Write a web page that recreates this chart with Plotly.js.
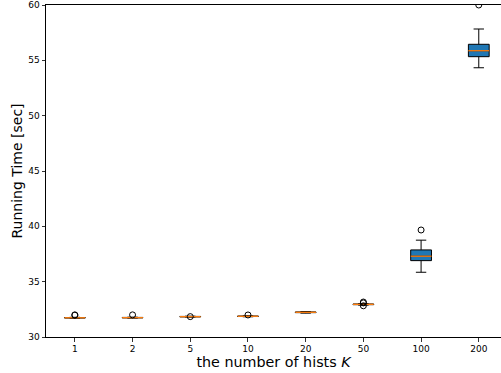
<!DOCTYPE html>
<html>
<head>
<meta charset="utf-8">
<script src="https://cdn.plot.ly/plotly-3.0.1.min.js"></script>
<style>html,body{margin:0;padding:0;background:#fff}#chart{width:501px;height:373px}</style>
</head>
<body>
<div id="chart"></div>
<script>
const categories = ["1", "2", "5", "10", "20", "50", "100", "200"];
const q1 = [31.72, 31.73, 31.82, 31.85, 32.20, 32.92, 36.90, 55.33];
const median = [31.74, 31.75, 31.84, 31.87, 32.23, 32.95, 37.30, 55.87];
const q3 = [31.76, 31.77, 31.86, 31.89, 32.26, 32.98, 37.87, 56.45];
const lowerWhisker = [31.70, 31.71, 31.80, 31.83, 32.16, 32.88, 35.85, 54.33];
const upperWhisker = [31.78, 31.79, 31.88, 31.91, 32.30, 33.02, 38.75, 57.83];
const outlierCat = ["1", "1", "2", "5", "10", "50", "50", "50", "100", "200"];
const outlierVal = [31.97, 32.0, 32.0, 31.84, 31.99, 33.16, 33.08, 32.82, 39.67, 60.0];

const boxWidth = 0.36;
const pos = categories.map((c, i) => i + 1);
const posOf = c => categories.indexOf(c) + 1;

const boxTrace = {
  type: 'box',
  x: pos,
  q1: q1, median: median, q3: q3,
  lowerfence: lowerWhisker, upperfence: upperWhisker,
  width: boxWidth,
  whiskerwidth: 0.5,
  fillcolor: '#1f77b4',
  line: {color: '#000000', width: 1},
  boxpoints: false,
  hoverinfo: 'skip',
  showlegend: false
};

const mx = [], my = [];
pos.forEach((p, i) => { mx.push(p - boxWidth / 2, p + boxWidth / 2, null); my.push(median[i], median[i], null); });
const medianTrace = {
  type: 'scatter', mode: 'lines', x: mx, y: my,
  line: {color: '#ff7f0e', width: 1.3}, showlegend: false, hoverinfo: 'skip'
};

const outlierTrace = {
  type: 'scatter', mode: 'markers',
  x: outlierCat.map(posOf), y: outlierVal,
  marker: {symbol: 'circle-open', size: 6, color: '#000000', line: {width: 1, color: '#000000'}},
  showlegend: false, hoverinfo: 'skip'
};

const layout = {
  width: 501, height: 373,
  margin: {l: 46, r: 0, t: 5, b: 36, pad: 0},
  paper_bgcolor: '#ffffff', plot_bgcolor: '#ffffff',
  font: {family: 'DejaVu Sans', color: '#000000', size: 9},
  showlegend: false,
  xaxis: {
    range: [0.5, 8.385],
    tickmode: 'array', tickvals: pos, ticktext: categories,
    showgrid: false, zeroline: false,
    showline: true, linecolor: '#000000', linewidth: 1, mirror: true,
    ticks: 'outside', ticklen: 3.5, tickwidth: 0.8, tickcolor: '#000000',
    tickfont: {size: 9, family: 'DejaVu Sans'},
    title: {text: 'the number of hists <i>K</i>', font: {size: 14.3, family: 'DejaVu Sans'}, standoff: 3}
  },
  yaxis: {
    range: [30, 60],
    tickvals: [30, 35, 40, 45, 50, 55, 60],
    showgrid: false, zeroline: false,
    showline: true, linecolor: '#000000', linewidth: 1, mirror: false,
    ticks: 'outside', ticklen: 3.5, tickwidth: 0.8, tickcolor: '#000000',
    tickfont: {size: 9, family: 'DejaVu Sans'},
    title: {text: 'Running Time [sec]', font: {size: 14, family: 'DejaVu Sans'}, standoff: 2}
  }
};

Plotly.newPlot('chart', [boxTrace, medianTrace, outlierTrace], layout, {displayModeBar: false, staticPlot: true});
</script>
</body>
</html>
